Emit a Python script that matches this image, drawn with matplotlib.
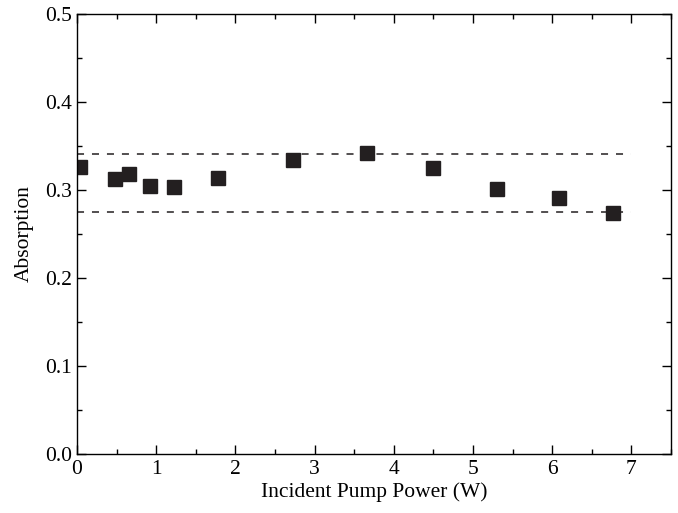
import matplotlib.pyplot as plt
from matplotlib.ticker import MultipleLocator

# Data
power = [0.04, 0.475, 0.65, 0.92, 1.22, 1.78, 2.73, 3.66, 4.50, 5.30, 6.08, 6.77]
absorption = [0.3265, 0.312, 0.318, 0.304, 0.303, 0.314, 0.334, 0.342, 0.325, 0.301, 0.291, 0.2735]
band_upper = 0.341
band_lower = 0.275
band_x = [0, 7]

plt.rcParams['font.family'] = ['Liberation Serif', 'DejaVu Serif']

fig = plt.figure(figsize=(6.78, 5.13), dpi=100)
ax = fig.add_axes([0.1136, 0.115, 0.8761, 0.8577])

# Dashed band limits
ax.plot(band_x, [band_upper, band_upper], color='#231f20', lw=1.1, ls=(0, (4.6, 5.2)))
ax.plot(band_x, [band_lower, band_lower], color='#231f20', lw=1.1, ls=(0, (4.6, 5.2)))

# Measured absorption
ax.plot(power, absorption, ls='none', marker='s', ms=9.5, color='#231f20')

ax.set_xlim(0, 7.5)
ax.set_ylim(0, 0.5)
ax.xaxis.set_major_locator(MultipleLocator(1))
ax.xaxis.set_minor_locator(MultipleLocator(0.5))
ax.yaxis.set_major_locator(MultipleLocator(0.1))
ax.yaxis.set_minor_locator(MultipleLocator(0.05))
ax.yaxis.set_major_formatter(plt.FormatStrFormatter('%.1f'))

ax.tick_params(which='both', direction='in', top=True, right=True, labelsize=15.5, width=1)
ax.tick_params(which='major', length=6.5)
ax.tick_params(which='minor', length=3.5)
ax.tick_params(axis='x', pad=4)
for sp in ax.spines.values():
    sp.set_linewidth(1)

ax.set_xlabel("Incident Pump Power (W)", fontsize=15.5, labelpad=3)
ax.set_ylabel("Absorption", fontsize=15.5, labelpad=8)

fig.savefig("out.png", dpi=100)
